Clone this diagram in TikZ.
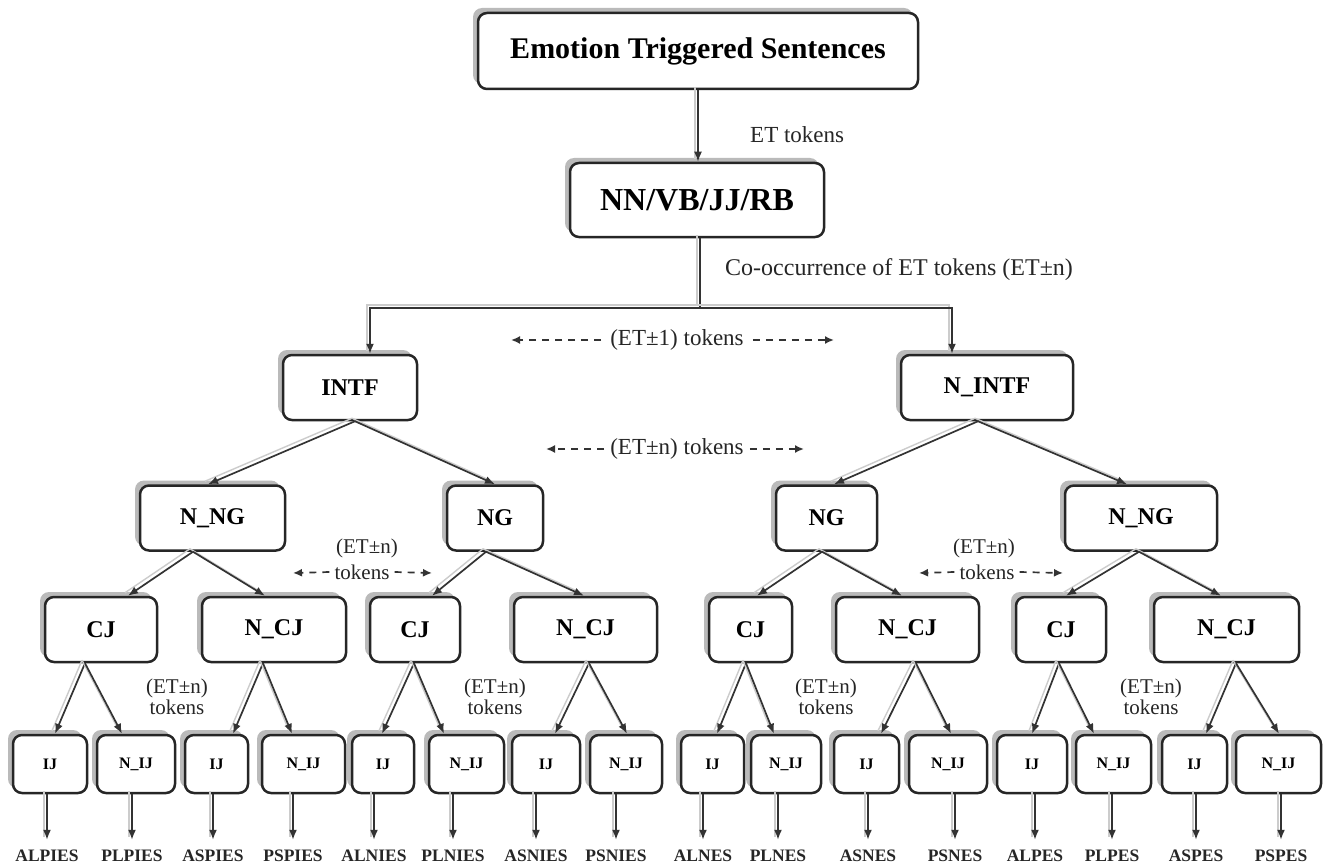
\documentclass[tikz,border=0pt]{standalone}
\usepackage{fontspec}
\setmainfont{Liberation Serif}
\usetikzlibrary{arrows.meta,shadows,calc}
\begin{document}
\begin{tikzpicture}[x=1pt,y=-1pt,
  box/.style={draw=black!85, line width=2.5pt, rounded corners=9pt, fill=white, inner sep=0pt,
    drop shadow={shadow xshift=-5pt, shadow yshift=5pt, fill=black!60, opacity=0.45}},
  fbig/.style={font=\bfseries\fontsize{30}{32}\selectfont},
  fnn/.style={font=\bfseries\fontsize{32}{34}\selectfont},
  fmid/.style={font=\bfseries\fontsize{24}{26}\selectfont},
  fsmall/.style={font=\bfseries\fontsize{16}{17}\selectfont},
  lbl/.style={font=\bfseries\fontsize{17.5}{17.5}\selectfont, text=black!85, inner sep=0pt, text height=12pt, text depth=0pt},
  note/.style={font=\fontsize{23}{25}\selectfont, text=black!85, inner sep=0pt},
  snote/.style={font=\fontsize{21}{21}\selectfont, text=black!85, inner sep=0pt, align=center},
  conn/.style={draw=black!80, line width=1.7pt, -{Latex[length=10pt,width=8pt]},
    preaction={draw=black!20, line width=1.4pt, -, transform canvas={shift={(-3pt,3pt)}}}},
  dasharr/.style={draw=black!80, line width=1.7pt, dash pattern=on 7pt off 6pt, -{Latex[length=9pt,width=8pt]}},
]
\useasboundingbox[fill=white] (0,0) rectangle (1326,864);

% ---- top levels
\node[box, fbig, minimum width=440pt, minimum height=76pt] (title) at (698,51) {Emotion Triggered Sentences};
\node[box, fnn, minimum width=254pt, minimum height=74pt] (nn) at (697,200) {NN/VB/JJ/RB};
\draw[conn] (title.south) -- ([xshift=1pt]nn.north);
\node[note, anchor=west] (ettok) at (750,135) {ET tokens};

\node[box, fmid, minimum width=134pt, minimum height=65pt] (intf) at (350,387.5) {INTF};
\node[box, fmid, minimum width=172pt, minimum height=65pt] (nintf) at (987,387.5) {N\_INTF};
\coordinate (split) at (700,308);
\draw[conn, -] ([xshift=3pt]nn.south) -- (split);
\draw[conn] (split) -| ([xshift=20pt]intf.north);
\draw[conn] (split) -| ([xshift=-35pt]nintf.north);
\node[note, anchor=west, font=\fontsize{24}{26}\selectfont] (cooc) at (725,270) {Co-occurrence of ET tokens (ET±n)};

\node[note, inner sep=9pt] (et1) at (677,340) {(ET±1) tokens};
\coordinate (et1l) at (511,340); \coordinate (et1r) at (834,340);
\draw[dasharr] (et1.west) -- (et1l);
\draw[dasharr] (et1.east) -- (et1r);

\node[note, inner sep=6pt] (etn) at (677,449) {(ET±n) tokens};
\coordinate (etnl) at (546,449); \coordinate (etnr) at (804,449);
\draw[dasharr] (etn.west) -- (etnl);
\draw[dasharr] (etn.east) -- (etnr);

% ---- NG level
\node[box, fmid, minimum width=145pt, minimum height=65pt] (nngL) at (212.5,518) {N\_NG};
\node[box, fmid, minimum width=96pt, minimum height=65pt] (ngL) at (495,518) {NG};
\node[box, fmid, minimum width=101pt, minimum height=65pt] (ngR) at (826.5,518) {NG};
\node[box, fmid, minimum width=152pt, minimum height=65pt] (nngR) at (1141,518) {N\_NG};
\draw[conn] ([xshift=5pt]intf.south) -- ([xshift=-4.5pt]nngL.north);
\draw[conn] ([xshift=5pt]intf.south) -- (ngL.north);
\draw[conn] ([xshift=-9pt]nintf.south) -- ([xshift=7.5pt]ngR.north);
\draw[conn] ([xshift=-9pt]nintf.south) -- ([xshift=-14pt]nngR.north);

\node[snote] (m1a) at (367,548) {(ET±n)};
\node[snote, inner sep=5pt] (m1b) at (362,572) {tokens};
\coordinate (m1l) at (293,573); \coordinate (m1r) at (432,573);
\draw[dasharr] (m1b.west) -- (m1l);
\draw[dasharr] (m1b.east) -- (m1r);
\node[snote] (m2a) at (984,548) {(ET±n)};
\node[snote, inner sep=5pt] (m2b) at (987,572) {tokens};
\coordinate (m2l) at (919,573); \coordinate (m2r) at (1063,573);
\draw[dasharr] (m2b.west) -- (m2l);
\draw[dasharr] (m2b.east) -- (m2r);

% ---- CJ level
\foreach \n/\x/\w/\t in {cj1/101/112/CJ, ncj1/274/144/N\_CJ, cj2/415/90/CJ, ncj2/585.5/143/N\_CJ,
                         cj3/750.5/83/CJ, ncj3/907.5/143/N\_CJ, cj4/1061/90/CJ, ncj4/1226.5/145/N\_CJ}
  \node[box, fmid, minimum width=\w pt, minimum height=65pt] (\n) at (\x,629.5) {\t};

\draw[conn] ([xshift=-19.5pt]nngL.south) -- ([xshift=27pt]cj1.north);
\draw[conn] ([xshift=-19.5pt]nngL.south) -- ([xshift=-9pt]ncj1.north);
\draw[conn] ([xshift=-9pt]ngL.south) -- ([xshift=17pt]cj2.north);
\draw[conn] ([xshift=-9pt]ngL.south) -- ([xshift=-1.5pt]ncj2.north);
\draw[conn] ([xshift=-4.5pt]ngR.south) -- ([xshift=6.5pt]cj3.north);
\draw[conn] ([xshift=-4.5pt]ngR.south) -- ([xshift=-5.5pt]ncj3.north);
\draw[conn] ([xshift=-2pt]nngR.south) -- ([xshift=5pt]cj4.north);
\draw[conn] ([xshift=-2pt]nngR.south) -- ([xshift=-5.5pt]ncj4.north);

\node[snote] (t1) at (177,697) {(ET±n)\\tokens};
\node[snote] (t2) at (495,697) {(ET±n)\\tokens};
\node[snote] (t3) at (826,697) {(ET±n)\\tokens};
\node[snote] (t4) at (1151,697) {(ET±n)\\tokens};

% ---- IJ level
\foreach \n/\x/\w/\t in {ij1/50/74/IJ, nij1/136/78/N\_IJ, ij2/216.5/63/IJ, nij2/303.5/83/N\_IJ,
                         ij3/383/62/IJ, nij3/466.5/75/N\_IJ, ij4/546/68/IJ, nij4/626/72/N\_IJ,
                         ij5/712.5/63/IJ, nij5/786/70/N\_IJ, ij6/866.5/65/IJ, nij6/948/78/N\_IJ,
                         ij7/1032/70/IJ, nij7/1113.5/75/N\_IJ, ij8/1194.5/65/IJ, nij8/1278.5/85/N\_IJ}
  \node[box, fsmall, minimum width=\w pt, minimum height=58pt] (\n) at (\x,764) {\t};

\draw[conn] ([xshift=-16pt]cj1.south) -- ([xshift=5pt]ij1.north);
\draw[conn] ([xshift=-16pt]cj1.south) -- ([xshift=-14pt]nij1.north);
\draw[conn] ([xshift=-11pt]ncj1.south) -- ([xshift=16.5pt]ij2.north);
\draw[conn] ([xshift=-11pt]ncj1.south) -- ([xshift=-11.5pt]nij2.north);
\draw[conn] ([xshift=-1pt]cj2.south) -- ([xshift=-1pt]ij3.north);
\draw[conn] ([xshift=-1pt]cj2.south) -- ([xshift=-22.5pt]nij3.north);
\draw[conn] ([xshift=3.5pt]ncj2.south) -- ([xshift=9pt]ij4.north);
\draw[conn] ([xshift=3.5pt]ncj2.south) -- ([xshift=1pt]nij4.north);
\draw[conn] ([xshift=-4.5pt]cj3.south) -- ([xshift=4.5pt]ij5.north);
\draw[conn] ([xshift=-4.5pt]cj3.south) -- ([xshift=-12pt]nij5.north);
\draw[conn] ([xshift=8.5pt]ncj3.south) -- ([xshift=14.5pt]ij6.north);
\draw[conn] ([xshift=8.5pt]ncj3.south) -- ([xshift=3pt]nij6.north);
\draw[conn] ([xshift=-2pt]cj4.south) -- (ij7.north);
\draw[conn] ([xshift=-2pt]cj4.south) -- ([xshift=-19.5pt]nij7.north);
\draw[conn] ([xshift=9.5pt]ncj4.south) -- ([xshift=11.5pt]ij8.north);
\draw[conn] ([xshift=9.5pt]ncj4.south) -- ([xshift=0.5pt]nij8.north);

% ---- outputs
\foreach \n/\x/\t in {ij1/47/ALPIES, nij1/132/PLPIES, ij2/213/ASPIES, nij2/293/PSPIES,
                      ij3/374/ALNIES, nij3/453/PLNIES, ij4/536/ASNIES, nij4/616/PSNIES,
                      ij5/703/ALNES, nij5/778/PLNES, ij6/868/ASNES, nij6/955/PSNES,
                      ij7/1035/ALPES, nij7/1112/PLPES, ij8/1196/ASPES, nij8/1281/PSPES}
{
  \node[lbl] (out-\n) at (\x,855) {\t};
  \draw[conn, preaction={draw=none}] (\n.south -| out-\n.north) -- ([yshift=9pt]out-\n.north);
}
\end{tikzpicture}
\end{document}
